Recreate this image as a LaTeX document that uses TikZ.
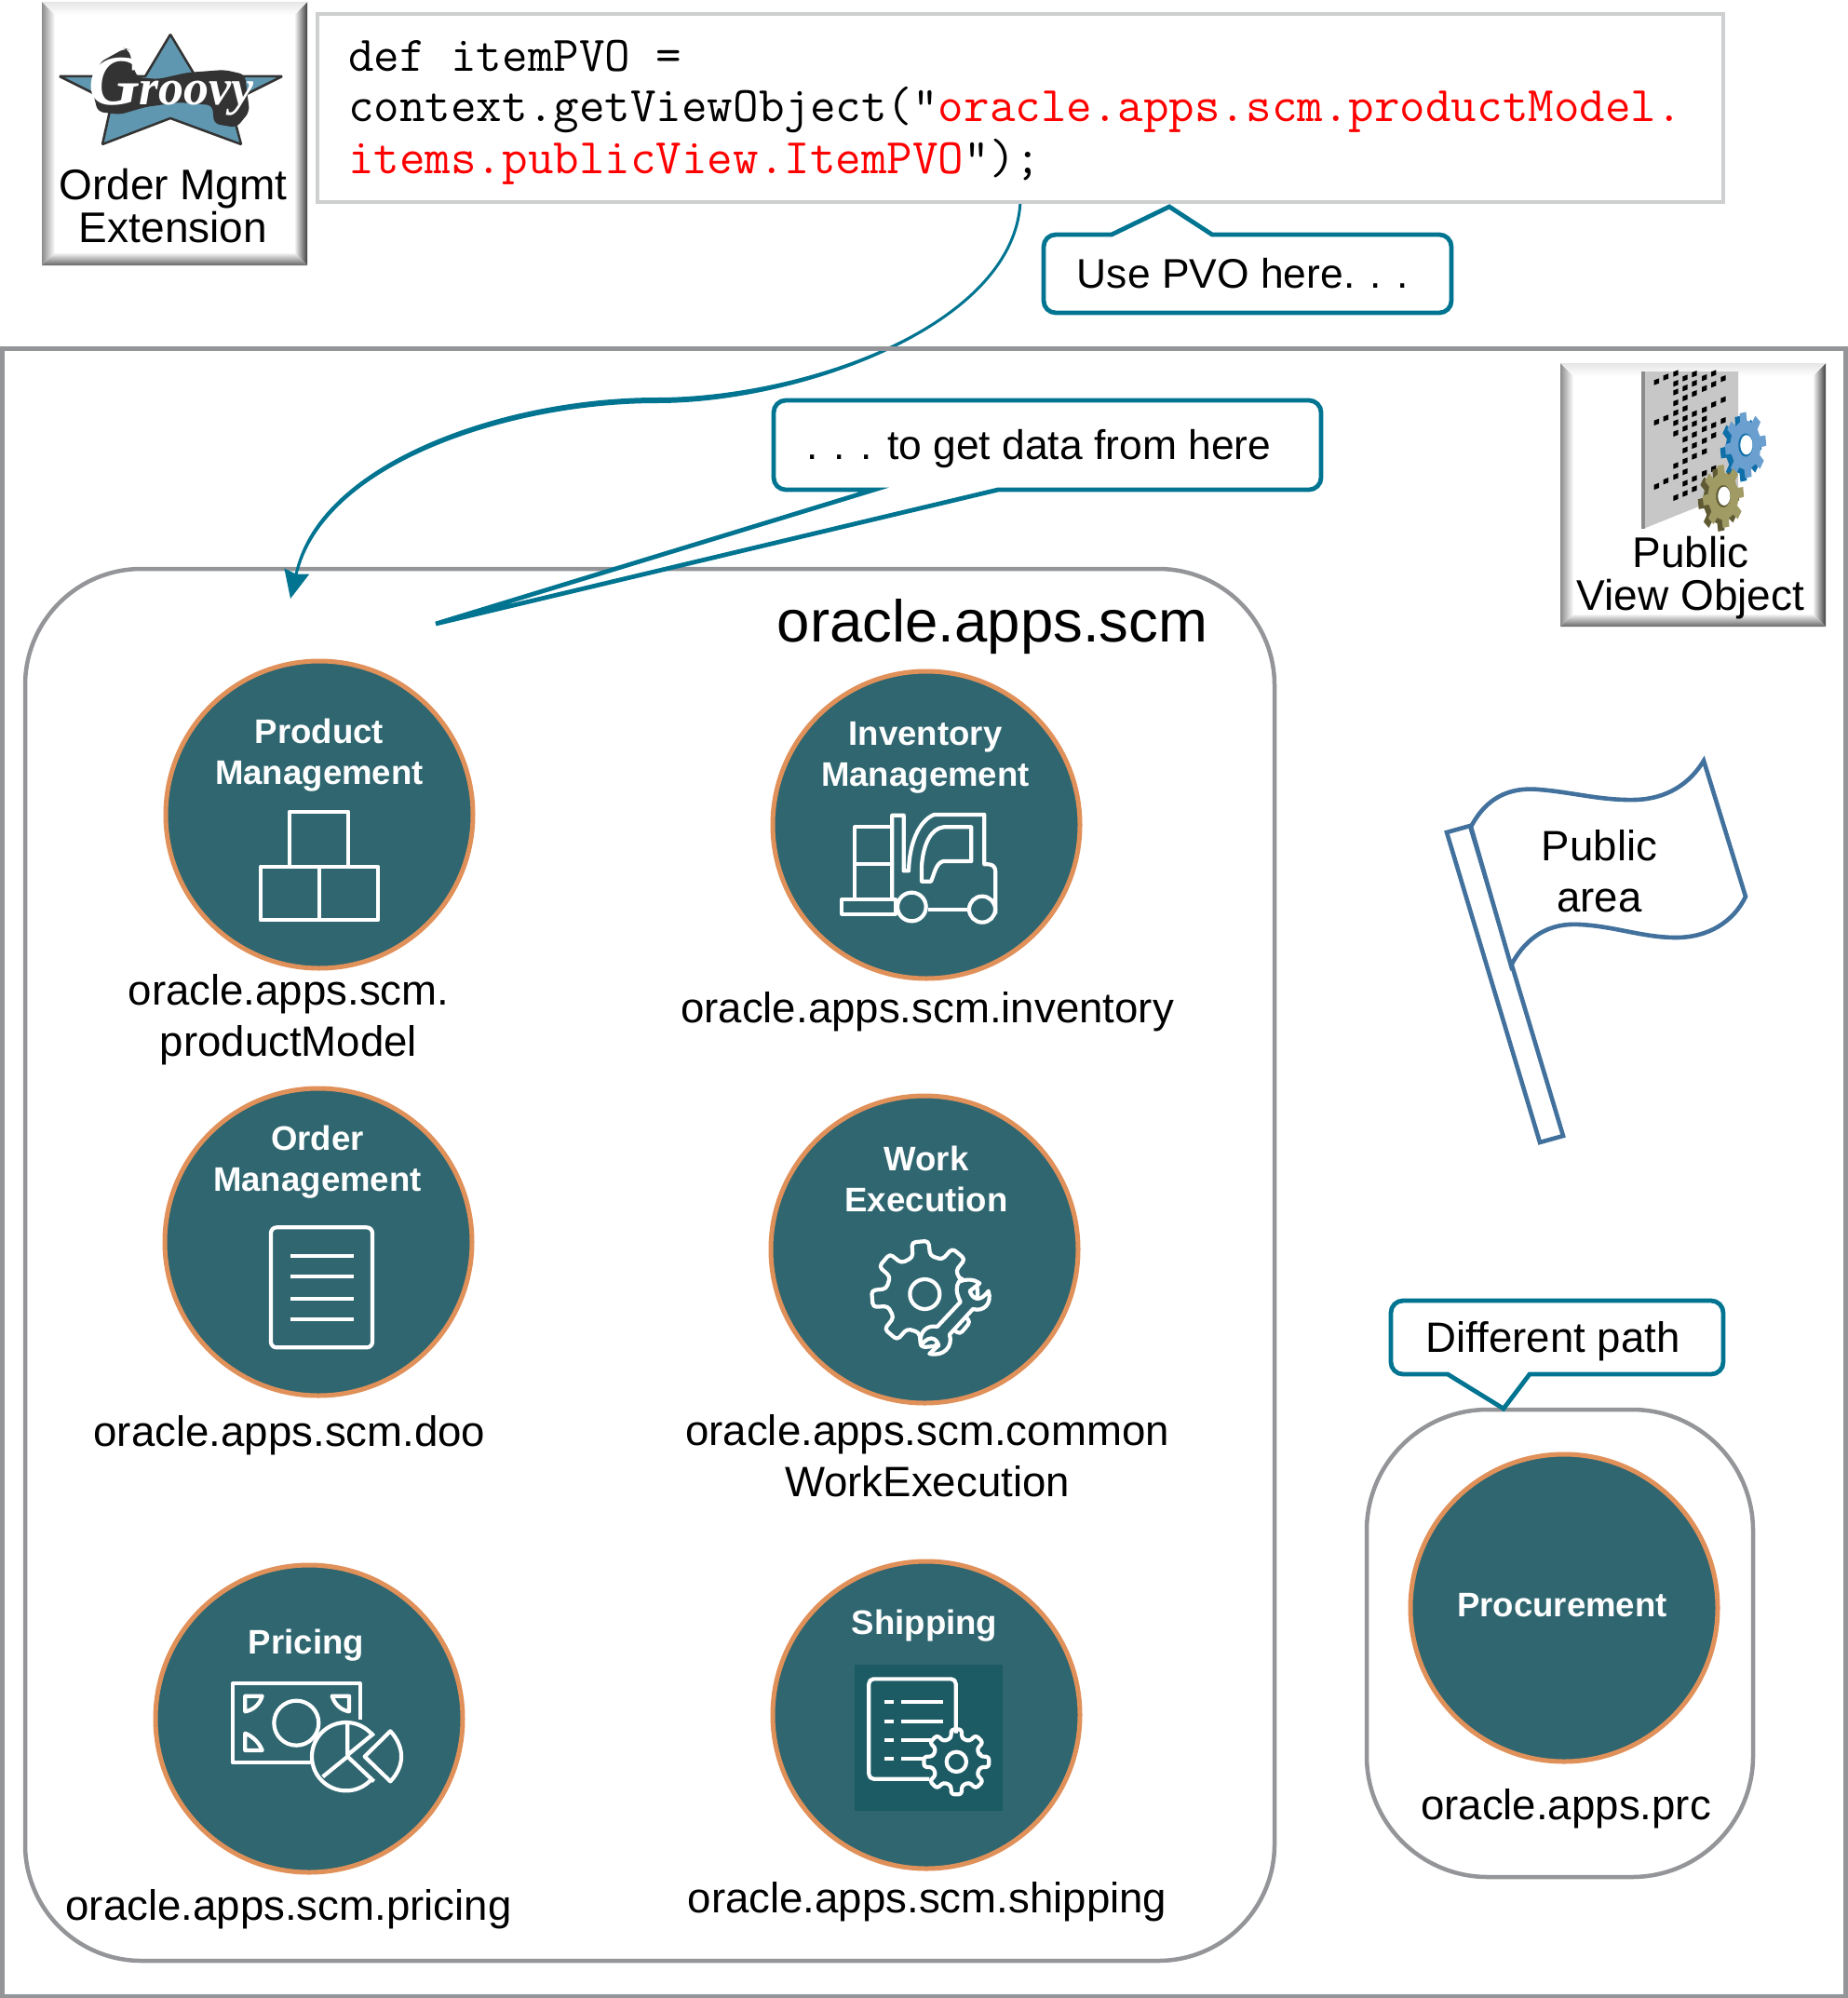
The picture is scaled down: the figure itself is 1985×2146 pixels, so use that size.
\documentclass[tikz,border=0pt]{standalone}
\usepackage{fontspec}
\setmainfont{Liberation Sans}
\newfontfamily\logofont{Liberation Serif}
\usetikzlibrary{arrows.meta}
\definecolor{tealc}{HTML}{2F6670}
\definecolor{tealm}{HTML}{295A63}
\definecolor{teald}{HTML}{1A3C42}
\definecolor{tealsq}{HTML}{1C5A64}
\definecolor{ringc}{HTML}{E09059}
\definecolor{linec}{HTML}{007490}
\definecolor{boxgrey}{HTML}{939598}
\definecolor{codegrey}{HTML}{CDCFD0}
\definecolor{flagc}{HTML}{41719C}
\definecolor{starc}{HTML}{6097B0}
\definecolor{gearb}{HTML}{6A9FD0}
\definecolor{gearbd}{HTML}{0F6FA8}
\definecolor{gearo}{HTML}{A09A64}
\definecolor{gearod}{HTML}{5F5A34}
\pgfdeclareradialshading{discshade}{\pgfpoint{-9bp}{9bp}}{color(0bp)=(tealc); color(46bp)=(tealc); color(54bp)=(tealm); color(62bp)=(teald); color(100bp)=(teald)}
\tikzset{
  disc/.style={circle,draw=ringc,line width=5pt,shading=discshade,minimum size=330pt,inner sep=0pt},
  disctxt/.style={anchor=base,align=center,inner sep=0pt,text=white,font=\fontsize{36.6}{44}\selectfont\bfseries},
  lbl/.style={anchor=base,align=center,inner sep=0pt,font=\fontsize{45.6}{55}\selectfont},
  calloutlbl/.style={anchor=base,align=center,inner sep=0pt,font=\fontsize{44.4}{55}\selectfont},
  boxlbl/.style={anchor=base,align=center,inner sep=0pt,font=\fontsize{46}{46}\selectfont},
  codetxt/.style={anchor=base west,align=left,inner sep=0pt,font=\fontsize{53.5}{55}\selectfont\ttfamily},
  container/.style={draw=boxgrey,line width=4.5pt,rounded corners=125pt},
  calloutshape/.style={draw=linec,line width=4.8pt,fill=white,rounded corners=13pt,line join=miter},
  icon/.style={draw=white,line width=4.2pt,line join=round},
  zoomat/.style 2 args={shift={(#1,#2)},scale=1/3},
  flagline/.style={draw=flagc,line width=4.6pt,fill=white,line join=miter}
}
\newcommand{\bevelbox}[4]{%
  \fill[white] (#1,#2) rectangle (#3,#4);
  \shade[left color=black!45,right color=white] (#1,#2) -- ({#1+14},{#2+14}) -- ({#1+14},{#4-14}) -- (#1,#4) -- cycle;
  \shade[left color=white,right color=black!75] (#3,#2) -- ({#3-14},{#2+14}) -- ({#3-14},{#4-14}) -- (#3,#4) -- cycle;
  \shade[top color=black!10,bottom color=white] (#1,#2) -- ({#1+14},{#2+14}) -- ({#3-14},{#2+14}) -- (#3,#2) -- cycle;
  \shade[top color=white,bottom color=black!60] (#1,#4) -- ({#1+14},{#4-14}) -- ({#3-14},{#4-14}) -- (#3,#4) -- cycle;
}
\newcommand{\gearoutline}[2]{({-13}:#1) \foreach \a in {0,45,...,315} { -- ({\a-13}:#1) -- ({\a-9}:#2) -- ({\a+9}:#2) -- ({\a+13}:#1) } -- cycle}
\begin{document}
\begin{tikzpicture}[x=1pt,y=-1pt]
\useasboundingbox (0,0) rectangle (1985,2146);
\fill[white] (0,0) rectangle (1985,2146);

% containers
\draw[container] (27,611) rectangle (1369,2106);
\draw[container,rounded corners=130pt] (1468,1514) rectangle (1883,2016);

% connector from code to scm
\coordinate (arrowStart) at (1096,216);
\coordinate (arrowMid) at (706,430);
\coordinate (arrowTip) at (312,643);
\draw[linec,line width=3pt,-{Stealth[length=30pt,width=27pt,inset=3pt]}] (arrowStart) .. controls (1090,350) and (860,430) .. (arrowMid) .. controls (540,430) and (345,500) .. (arrowTip);
\fill[linec] (arrowStart) .. controls (1090,350) and (860,427) .. (706,427) .. controls (540,427) and (345,497) .. (318,612) -- (321,612) .. controls (347,503) and (540,433) .. (706,433) .. controls (860,433) and (1092,350) .. (arrowStart) -- cycle;

% outer box
\draw[boxgrey,line width=5pt] (2.5,374) rectangle (1982,2144);

% Groovy box
\bevelbox{45}{2}{330}{285}
\fill[starc,draw=black!80,line width=2.5pt,line join=bevel] (183,37) -- (210,82) -- (303,82) -- (247,110) -- (259,155) -- (183,127) -- (110,155) -- (120,110) -- (64,82) -- (156,82) -- cycle;
\fill[black!80,rounded corners=6pt] (134,52) -- (107,67) -- (100,100) -- (105,120) -- (129,123) -- (156,115) -- (192,110) -- (228,113) -- (230,133) -- (254,137) -- (268,120) -- (263,80) -- (241,75) -- (201,78) -- (170,85) -- (147,83) -- (138,53) -- cycle;
\node[inner sep=0pt,text=white,font=\logofont\bfseries\itshape\fontsize{54}{54}\selectfont] (groovylogo) at (184,93) {{\fontsize{76}{76}\selectfont G}roovy};
\node[boxlbl] (groovytxt) at (186,260) {Order Mgmt\\Extension};

% code box
\node[draw=codegrey,line width=4.5pt,fill=white,minimum width=1510pt,minimum height=202pt,inner sep=0pt] (codebox) at (1096,116) {};
\node[codetxt] (code) at (374,186) {def itemPVO =\\context.getViewObject("\textcolor{red}{oracle.apps.scm.productModel.}\\\textcolor{red}{items.publicView.ItemPVO}");};

% PVO box
\bevelbox{1676}{390}{1961}{673}
\fill[black!22] (1765,399) -- (1867,399) -- (1867,527) -- (1765,568) -- cycle;
\fill[black!45] (1763,399) rectangle (1767,568);
\begin{scope}[zoomat={1750}{390}]
\foreach \xx/\yl in {88/{60,190,397},118/{45,177,380},150/{33,65,93,128,160,192,226,330,365,433},180/{48,80,112,146,178,210,245,280,315,350,387,420},210/{35,65,98,163,195,230,265,300,372,405},242/{47,82,150,180,212,250,285,355},272/{33,68,133,200,233,340},303/{50,118,185}}{
  \foreach \yy in \yl { \fill[black] (\xx-8,\yy-5) -- (\xx+8,\yy-11) -- (\xx+8,\yy+5) -- (\xx-8,\yy+11) -- cycle; }
}
\end{scope}
\begin{scope}[shift={(1875,478)},xscale=.3,yscale=.48,rotate=8]
\fill[gearbd,shift={(-18,6)}] \gearoutline{55}{74};
\fill[gearb] \gearoutline{55}{74};
\fill[gearbd] (0,0) circle (26);
\fill[white,shift={(3,0)}] (0,0) circle (22);
\end{scope}
\begin{scope}[shift={(1851,533)},xscale=.3,yscale=.46,rotate=8]
\fill[gearod,shift={(-18,6)}] \gearoutline{55}{74};
\fill[gearo] \gearoutline{55}{74};
\fill[gearod] (0,0) circle (26);
\fill[white,shift={(3,0)}] (0,0) circle (22);
\end{scope}
\node[boxlbl] (pvotxt) at (1816,655) {Public\\View Object};

% callouts
\coordinate (tipA) at (1256,222);
\coordinate (tipB) at (468,670);
\coordinate (tipC) at (1615,1513);
\path[calloutshape] (1121,252) [sharp corners] -- (1194,252) -- (tipA) -- (1302,252) [rounded corners=13pt] -- (1559,252) -- (1559,336) -- (1121,336) -- cycle;
\path[calloutshape] (831,430) -- (1419,430) -- (1419,526) [sharp corners] -- (1072,526) -- (tipB) -- (939,526) [rounded corners=13pt] -- (831,526) -- cycle;
\path[calloutshape] (1494,1397) -- (1851,1397) -- (1851,1476) [sharp corners] -- (1643,1476) -- (tipC) -- (1555,1476) [rounded corners=13pt] -- (1494,1476) -- cycle;
\node[calloutlbl] (useTxt) at (1335,309) {Use PVO here. . .};
\node[calloutlbl] (getTxt) at (1116,493) {. . . to get data from here};
\node[lbl] (diffTxt) at (1668,1452) {Different path};

% scm title
\node[lbl,font=\fontsize{63.5}{70}\selectfont] (scmTitle) at (1066,689) {oracle.apps.scm};

% flag
\draw[flagline] (1554,894) -- (1579,887) -- (1679,1220) -- (1654,1227) -- cycle;
\draw[flagline] (1580,888) .. controls (1600,850) and (1630,846) .. (1653,848) .. controls (1690,851) and (1720,860) .. (1757,859) .. controls (1790,858) and (1815,842) .. (1830,817) -- (1875,963) .. controls (1862,990) and (1835,1007) .. (1800,1007) .. controls (1765,1007) and (1735,995) .. (1697,993) .. controls (1665,991) and (1640,1005) .. (1623,1037) -- cycle;
\node[lbl] (flagTxt) at (1718,979) {Public\\area};

% discs
\node[disc] (prod) at (343,875) {};
\node[disc] (inv) at (995,886) {};
\node[disc] (ord) at (342,1334) {};
\node[disc] (work) at (993,1342) {};
\node[disc] (pric) at (332,1846) {};
\node[disc] (ship) at (995,1842) {};
\node[disc] (proc) at (1680,1727) {};

% disc titles
\node[disctxt] (prodT) at (343,842) {Product\\Management};
\node[disctxt] (invT) at (994,844) {Inventory\\Management};
\node[disctxt] (ordT) at (341,1279) {Order\\Management};
\node[disctxt] (workT) at (995,1301) {Work\\Execution};
\node[disctxt] (pricT) at (329,1776) {Pricing};
\node[disctxt] (shipT) at (993,1755) {Shipping};
\node[disctxt] (procT) at (1678,1736) {Procurement};

% package labels
\node[lbl] (prodL) at (310,1134) {oracle.apps.scm.\\productModel};
\node[lbl] (invL) at (996,1098) {oracle.apps.scm.inventory};
\node[lbl] (ordL) at (311,1553) {oracle.apps.scm.doo};
\node[lbl] (workL) at (996,1607) {oracle.apps.scm.common\\WorkExecution};
\node[lbl] (pricL) at (310,2062) {oracle.apps.scm.pricing};
\node[lbl] (shipL) at (996,2054) {oracle.apps.scm.shipping};
\node[lbl] (procL) at (1682,1954) {oracle.apps.prc};

% product icon
\begin{scope}[zoomat={150}{690}]
\draw[icon] (483,722) -- (483,545) -- (672,545) -- (672,722);
\draw[icon] (390,722) rectangle (767,895);
\draw[icon] (578,722) -- (578,895);
\end{scope}

% forklift icon
\begin{scope}[zoomat={800}{700}]
\draw[icon] (313,798) rectangle (485,845);
\draw[icon] (355,795) -- (355,565) -- (470,565);
\draw[icon] (355,685) -- (470,685);
\draw[icon] (475,795) -- (475,527) -- (512,527) -- (512,706) -- (528,706) .. controls (530,620) and (560,545) .. (610,525) -- (772,525) -- (772,685) -- (785,685) .. controls (800,685) and (808,695) .. (808,710) -- (808,845);
\draw[icon] (570,740) -- (570,690) .. controls (575,620) and (600,570) .. (640,565) -- (730,565) -- (730,675) -- (640,675) .. controls (615,680) and (610,720) .. (600,740) -- cycle;
\draw[icon,fill=tealc] (538,822) circle (46);
\draw[icon,fill=tealc] (765,830) circle (42);
\draw[icon] (590,832) -- (722,832);
\end{scope}

% order icon
\begin{scope}[zoomat={150}{1150}]
\draw[icon,rounded corners=6pt] (423,505) rectangle (750,892);
\foreach \yy in {596,662,736,800} { \draw[icon] (485,\yy) -- (690,\yy); }
\end{scope}

% work execution icon
\begin{scope}[zoomat={800}{1170}]
\begin{scope}[shift={(580,660)},rotate=5]
\draw[icon,rounded corners=4pt] \gearoutline{125}{172};
\draw[icon] (0,0) circle (48);
\end{scope}
\draw[icon,fill=tealc] (690,620) .. controls (715,610) and (740,612) .. (757,625) -- (725,650) .. controls (735,680) and (760,685) .. (785,650) .. controls (798,690) and (770,718) .. (735,708) -- (660,790) .. controls (672,830) and (640,862) .. (595,852) -- (625,825) .. controls (615,795) and (590,795) .. (568,825) .. controls (558,780) and (590,758) .. (620,765) -- (695,685) .. controls (680,655) and (680,635) .. (690,620) -- cycle;
\end{scope}

% pricing icon
\begin{scope}[zoomat={150}{1670}]
\draw[icon] (555,670) -- (300,670) -- (300,415) -- (710,415) -- (710,530);
\draw[icon] (340,455) -- (395,455) .. controls (385,485) and (365,500) .. (340,505) -- cycle;
\draw[icon] (675,455) -- (620,455) .. controls (630,485) and (650,500) .. (675,505) -- cycle;
\draw[icon] (340,630) -- (340,575) .. controls (365,585) and (385,605) .. (395,630) -- cycle;
\draw[icon] (505,542) circle (72);
\draw[icon,fill=tealc] (665,650) circle (110);
\fill[tealc] (672,644) -- (768,562) -- (805,620) -- (805,700) -- (768,745) -- cycle;
\draw[icon] (755,575) -- (670,645) -- (670,540);
\draw[icon] (670,650) -- (755,730);
\draw[icon] (670,650) -- (590,715);
\draw[icon] (725,650) -- (808,568) .. controls (855,620) and (855,680) .. (808,730) -- cycle;
\end{scope}

% shipping icon
\begin{scope}[zoomat={810}{1670}]
\fill[tealsq] (325,355) rectangle (800,825);
\draw[icon,rounded corners=5pt] (565,722) -- (370,722) -- (370,400) -- (650,400) -- (650,575);
\foreach \yy/\xe in {473/608,537/608,597/575,658/550} {
  \draw[icon] (420,\yy) -- (450,\yy);
  \draw[icon] (475,\yy) -- (\xe,\yy);
}
\begin{scope}[shift={(652,667)}]
\draw[icon,rounded corners=3pt] \gearoutline{78}{106};
\draw[icon] (0,0) circle (32);
\end{scope}
\end{scope}
\end{tikzpicture}
\end{document}
